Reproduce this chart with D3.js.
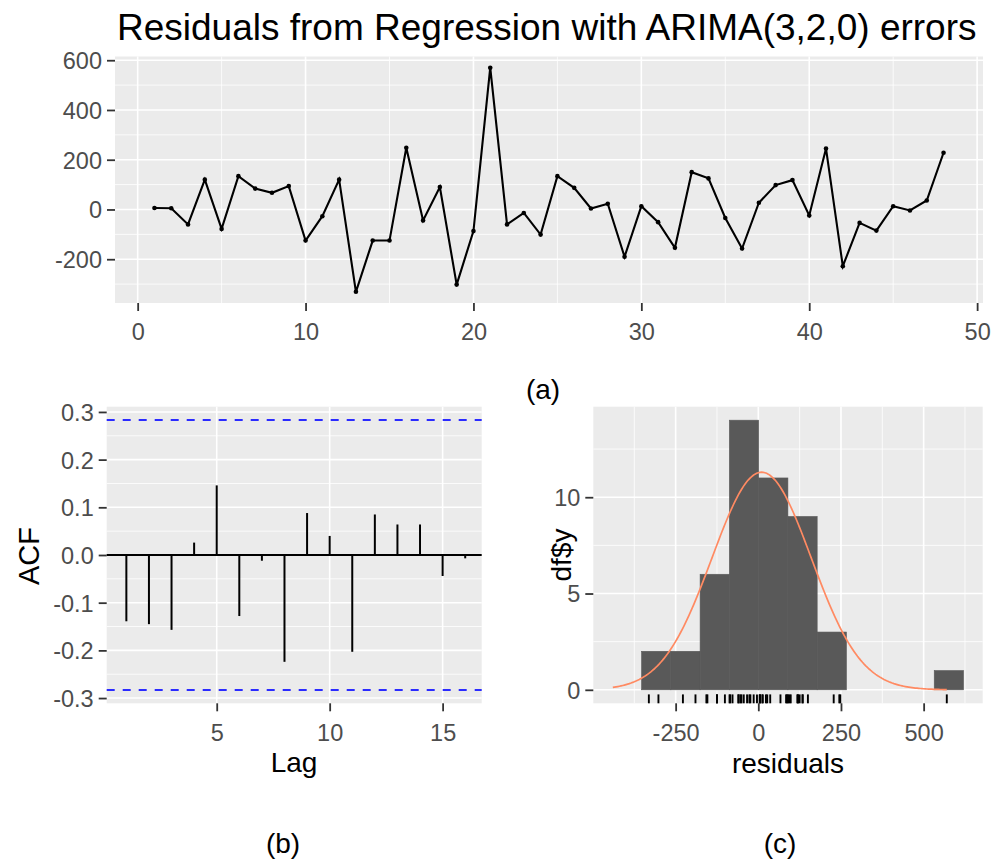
<!DOCTYPE html>
<html><head><meta charset="utf-8">
<script src="https://cdn.jsdelivr.net/npm/d3@7"></script>
<style>body{margin:0;background:#fff;} text{font-family:"Liberation Sans",Arial,sans-serif;}</style>
</head><body><svg id="c" width="993" height="867"></svg>
<script>
// ---------- data ----------
const titleText = "Residuals from Regression with ARIMA(3,2,0) errors";
const residuals = [6, 5, -60, 120, -78, 134, 84, 67, 94, -125, -27, 120, -331, -125, -125, 248,
  -44, 90, -302, -87, 570, -60, -14, -101, 134, 87, 4, 23, -190, 13, -51, -154,
  150, 125, -34, -157, 27, 98, 118, -24, 245, -228, -54, -85, 13, -4, 36, 228];
const timeIndex = residuals.map((d, i) => i + 1);
const topXTicks = [0, 10, 20, 30, 40, 50];
const topXMinor = [5, 15, 25, 35, 45];
const topYTicks = [-200, 0, 200, 400, 600];
const topYMinor = [-300, -100, 100, 300, 500];

const acfLags = [1, 2, 3, 4, 5, 6, 7, 8, 9, 10, 11, 12, 13, 14, 15, 16];
const acfValues = [-0.139, -0.145, -0.157, 0.026, 0.146, -0.128, -0.012, -0.224, 0.088, 0.040,
  -0.203, 0.085, 0.064, 0.064, -0.044, -0.007];
const ciLimit = 0.2829;
const acfXTicks = [5, 10, 15];
const acfYTicks = [-0.3, -0.2, -0.1, 0.0, 0.1, 0.2, 0.3];
const acfYMinor = [-0.25, -0.15, -0.05, 0.05, 0.15, 0.25];

const binEdges = [-353, -264.5, -176, -87.5, 1, 89.5, 178, 266.5, 355, 443.5, 532, 620.5];
const binCounts = [2, 2, 6, 14, 11, 9, 3, 0, 0, 0, 1];
const normMean = 10, normSd = 150;
const histXTicks = [-250, 0, 250, 500];
const histXMinor = [-375, -125, 125, 375, 625];
const histYTicks = [0, 5, 10];
const histYMinor = [2.5, 7.5, 12.5];

// ---------- layout ----------
const svg = d3.select("#c");
const tickCol = "#333333", labCol = "#4D4D4D";
const tickFs = 23.5, axisFs = 28;
const hy = f => (d => f(d).replace("\u2212", "-"));

function panel(x, y, xMaj, xMin, yMaj, yMin) {
  const [x0, x1] = x.range(), [y0, y1] = y.range();
  const g = svg.append("g");
  g.append("rect").attr("x", x0).attr("y", y1).attr("width", x1 - x0).attr("height", y0 - y1).attr("fill", "#EBEBEB");
  g.selectAll(".vmin").data(xMin).join("line").attr("x1", d => x(d)).attr("x2", d => x(d))
    .attr("y1", y1).attr("y2", y0).attr("stroke", "#fff").attr("stroke-width", 0.8);
  g.selectAll(".hmin").data(yMin).join("line").attr("y1", d => y(d)).attr("y2", d => y(d))
    .attr("x1", x0).attr("x2", x1).attr("stroke", "#fff").attr("stroke-width", 0.8);
  g.selectAll(".vmaj").data(xMaj).join("line").attr("x1", d => x(d)).attr("x2", d => x(d))
    .attr("y1", y1).attr("y2", y0).attr("stroke", "#fff").attr("stroke-width", 1.6);
  g.selectAll(".hmaj").data(yMaj).join("line").attr("y1", d => y(d)).attr("y2", d => y(d))
    .attr("x1", x0).attr("x2", x1).attr("stroke", "#fff").attr("stroke-width", 1.6);
  return g;
}
function axes(x, y, xT, yT, xFmt, yFmt, xLabBase) {
  const [x0] = x.range(), [y0] = y.range();
  const ax = svg.append("g").attr("transform", `translate(0,${y0})`)
    .call(d3.axisBottom(x).tickValues(xT).tickSize(8).tickPadding(6).tickFormat(hy(xFmt)));
  const ay = svg.append("g").attr("transform", `translate(${x0},0)`)
    .call(d3.axisLeft(y).tickValues(yT).tickSize(8).tickPadding(5).tickFormat(hy(yFmt)));
  [ax, ay].forEach(a => {
    a.select(".domain").remove();
    a.selectAll(".tick line").attr("stroke", tickCol).attr("stroke-width", 1.8);
    a.selectAll(".tick text").attr("fill", labCol).attr("font-size", tickFs)
      .attr("font-family", '"Liberation Sans",Arial,sans-serif');
  });
  ax.selectAll(".tick text").attr("dy", null).attr("y", xLabBase - y0).attr("dominant-baseline", "auto");
  ay.selectAll(".tick text").attr("dy", "0.36em");
}

// ---------- top panel ----------
const xT = d3.scaleLinear().domain([-1.35, 50.35]).range([115, 983]);
const yT = d3.scaleLinear().domain([-376, 615]).range([303, 56.5]);
panel(xT, yT, topXTicks, topXMinor, topYTicks, topYMinor);
axes(xT, yT, topXTicks, topYTicks, d3.format("d"), d3.format("d"), 340);
svg.append("path").datum(residuals)
  .attr("d", d3.line().x((d, i) => xT(timeIndex[i])).y(d => yT(d)))
  .attr("fill", "none").attr("stroke", "#000").attr("stroke-width", 2.1);
svg.append("g").selectAll("circle").data(residuals).join("circle")
  .attr("cx", (d, i) => xT(timeIndex[i])).attr("cy", d => yT(d)).attr("r", 2.3).attr("fill", "#000");
svg.append("text").attr("x", 117).attr("y", 40).attr("font-size", 37).attr("fill", "#000").text(titleText);
svg.append("text").attr("x", 543).attr("y", 399).attr("text-anchor", "middle").attr("font-size", 28).text("(a)");

// ---------- ACF panel ----------
const xA = d3.scaleLinear().domain([0.13, 16.73]).range([106.7, 481.7]);
const yA = d3.scaleLinear().domain([-0.311, 0.311]).range([703.3, 406.7]);
panel(xA, yA, acfXTicks, [], acfYTicks, acfYMinor);
axes(xA, yA, acfXTicks, acfYTicks, d3.format("d"), d3.format(".1f"), 741);
svg.append("line").attr("x1", 106.7).attr("x2", 481.7).attr("y1", yA(0)).attr("y2", yA(0))
  .attr("stroke", "#000").attr("stroke-width", 2);
svg.append("g").selectAll("line").data(acfValues).join("line")
  .attr("x1", (d, i) => xA(acfLags[i])).attr("x2", (d, i) => xA(acfLags[i]))
  .attr("y1", yA(0)).attr("y2", d => yA(d)).attr("stroke", "#000").attr("stroke-width", 2);
svg.append("g").selectAll("line").data([ciLimit, -ciLimit]).join("line")
  .attr("x1", 106.7).attr("x2", 481.7).attr("y1", d => yA(d)).attr("y2", d => yA(d))
  .attr("stroke", "#2B2BFF").attr("stroke-width", 2).attr("stroke-dasharray", "8,8");
svg.append("text").attr("transform", `translate(39,556) rotate(-90)`).attr("text-anchor", "middle")
  .attr("font-size", 29).text("ACF");
svg.append("text").attr("x", 294).attr("y", 772).attr("text-anchor", "middle").attr("font-size", axisFs).text("Lag");
svg.append("text").attr("x", 283).attr("y", 853).attr("text-anchor", "middle").attr("font-size", 28).text("(b)");

// ---------- histogram panel ----------
const xH = d3.scaleLinear().domain([-499, 678.6]).range([593.3, 982.7]);
const yH = d3.scaleLinear().domain([-0.7, 14.7]).range([703.3, 406.7]);
panel(xH, yH, histXTicks, histXMinor, histYTicks, histYMinor);
axes(xH, yH, histXTicks, histYTicks, d3.format("d"), d3.format("d"), 741);
svg.append("g").selectAll("rect").data(binCounts).join("rect")
  .attr("x", (d, i) => xH(binEdges[i])).attr("width", (d, i) => xH(binEdges[i + 1]) - xH(binEdges[i]))
  .attr("y", d => yH(d)).attr("height", d => yH(0) - yH(d)).attr("fill", "#595959")
  .attr("stroke", d => d > 0 ? "#595959" : "none").attr("stroke-width", 0.6);
const binW = binEdges[1] - binEdges[0];
const curveX = d3.range(normMean - 3 * normSd, d3.max(residuals) + 0.1, 5);
const dens = x => residuals.length * binW * Math.exp(-0.5 * ((x - normMean) / normSd) ** 2) / (normSd * Math.sqrt(2 * Math.PI));
svg.append("path").datum(curveX).attr("d", d3.line().x(d => xH(d)).y(d => yH(dens(d))))
  .attr("fill", "none").attr("stroke", "#FF8A62").attr("stroke-width", 1.7);
svg.append("g").selectAll("line").data(residuals).join("line")
  .attr("x1", d => xH(d)).attr("x2", d => xH(d)).attr("y1", 703.3).attr("y2", 694.4)
  .attr("stroke", "#000").attr("stroke-width", 1.9);
svg.append("text").attr("transform", `translate(571,555) rotate(-90)`).attr("text-anchor", "middle")
  .attr("font-size", axisFs).text("df$y");
svg.append("text").attr("x", 788).attr("y", 773).attr("text-anchor", "middle").attr("font-size", axisFs).text("residuals");
svg.append("text").attr("x", 780).attr("y", 853).attr("text-anchor", "middle").attr("font-size", 28).text("(c)");
</script></body></html>
